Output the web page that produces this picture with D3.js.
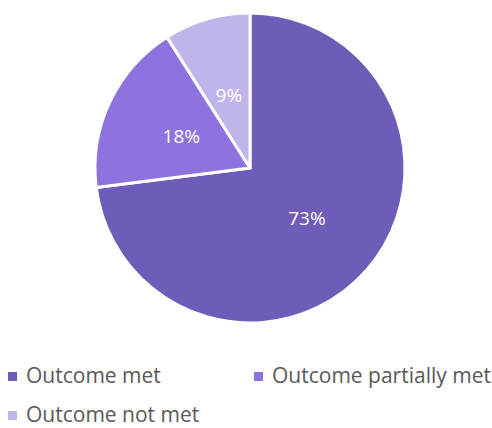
<!DOCTYPE html>
<html>
<head>
<meta charset="utf-8">
<script src="https://cdn.jsdelivr.net/npm/d3@7"></script>
<style>
  html, body { margin: 0; padding: 0; background: #fff; }
  svg { display: block; }
</style>
</head>
<body>
<svg id="chart" width="492" height="428"></svg>
<script>
const categories = ["Outcome met", "Outcome partially met", "Outcome not met"];
const values = [73, 18, 9];
const colors = ["#6f5bb8", "#8e73e0", "#c0b4eb"];

const svg = d3.select("#chart");
const cx = 250, cy = 168, R = 155;

const pie = d3.pie().sort(null).value(d => d.value);
const arcs = pie(categories.map((c, i) => ({ name: c, value: values[i], color: colors[i] })));

const arc = d3.arc().innerRadius(0).outerRadius(R);
const labelArc = d3.arc().innerRadius(R * 0.49).outerRadius(R * 0.49);

const g = svg.append("g").attr("transform", `translate(${cx},${cy})`);

g.selectAll("path.slice")
  .data(arcs)
  .join("path")
  .attr("class", "slice")
  .attr("d", arc)
  .attr("fill", d => d.data.color)
  .attr("stroke", "#fff")
  .attr("stroke-width", 3)
  .attr("stroke-linejoin", "round");

g.selectAll("text.label")
  .data(arcs)
  .join("text")
  .attr("class", "label")
  .attr("transform", d => `translate(${labelArc.centroid(d)})`)
  .attr("text-anchor", "middle")
  .attr("dominant-baseline", "central")
  .attr("font-family", "'Open Sans', sans-serif")
  .attr("font-size", 19)
  .attr("fill", "#fff")
  .text(d => d.data.value + "%");

// Legend: two items on the first row, one on the second
const legendPos = [[8, 383], [254, 383], [8, 422]];
const legend = svg.selectAll("g.legend")
  .data(categories)
  .join("g")
  .attr("class", "legend")
  .attr("transform", (d, i) => `translate(${legendPos[i][0]},${legendPos[i][1]})`);

legend.append("rect")
  .attr("x", 0).attr("y", -11)
  .attr("width", 9).attr("height", 9)
  .attr("fill", (d, i) => colors[i]);

legend.append("text")
  .attr("x", 18)
  .attr("y", 0)
  .attr("font-family", "'Open Sans', sans-serif")
  .attr("font-size", 21)
  .attr("fill", "#595959")
  .text(d => d);
</script>
</body>
</html>
